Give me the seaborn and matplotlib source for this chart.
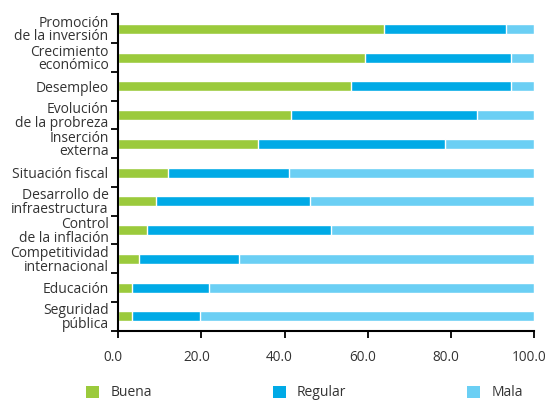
import matplotlib
matplotlib.use("Agg")
import matplotlib.pyplot as plt
from matplotlib.patches import Patch
from matplotlib.transforms import ScaledTranslation
import seaborn as sns
import pandas as pd

categorias = [
    "Promoción\nde la inversión",
    "Crecimiento\neconómico",
    "Desempleo",
    "Evolución\nde la probreza",
    "Inserción\nexterna",
    "Situación fiscal",
    "Desarrollo de\ninfraestructura",
    "Control\nde la inflación",
    "Competitividad\ninternacional",
    "Educación",
    "Seguridad\npública",
]
buena = [64.0, 59.3, 55.9, 41.6, 33.6, 12.0, 9.1, 7.0, 5.0, 3.3, 3.3]
regular = [29.3, 35.2, 38.6, 44.6, 45.1, 29.1, 37.0, 44.2, 24.1, 18.5, 16.4]
mala = [6.7, 5.5, 5.5, 13.8, 21.3, 58.9, 53.9, 48.8, 70.9, 78.2, 80.3]
xticks = [0, 20, 40, 60, 80, 100]
series = ["Buena", "Regular", "Mala"]
colores = {"Buena": "#9BCA3C", "Regular": "#00AAE6", "Mala": "#6BCFF4"}

sns.set_theme(style="white")
plt.rcParams["font.family"] = ["Open Sans", "DejaVu Sans"]
texto = "#333333"

df = pd.DataFrame({"cat": categorias, "Buena": buena, "Regular": regular, "Mala": mala})
acum = df[series].cumsum(axis=1)
acum["cat"] = df["cat"]

fig = plt.figure(figsize=(5.47, 4.0), dpi=100)
ax = fig.add_axes([0.2163, 0.1732, 0.9762 - 0.2163, 0.964 - 0.1732])

# stacked bars: draw cumulative totals back to front
for s in reversed(series):
    sns.barplot(data=acum, x=s, y="cat", orient="h", color=colores[s],
                width=0.35, edgecolor="white", linewidth=1.0,
                saturation=1, ax=ax, order=categorias)

ax.set_xlim(0, 100)
ax.set_ylim(len(categorias) - 0.5, -0.5)
ax.set_xlabel("")
ax.set_ylabel("")

ax.set_xticks(xticks)
ax.set_xticklabels([f"{v:.1f}" for v in xticks])
ax.tick_params(axis="x", direction="out", length=5, width=1.3, color="black",
               pad=9, labelsize=9.8, labelcolor=texto, bottom=True)
# x labels sit a little left of their ticks
shift = ScaledTranslation(-5 / 100, 0, fig.dpi_scale_trans)
for lab in ax.get_xticklabels():
    lab.set_transform(lab.get_transform() + shift)

# boundary ticks on y, labels centred on each bar
ax.set_yticks([i - 0.5 for i in range(len(categorias) + 1)])
ax.set_yticklabels([])
ax.set_yticks(range(len(categorias)), minor=True)
ax.set_yticklabels(categorias, minor=True, fontsize=10, color=texto,
                   linespacing=0.88)
ax.tick_params(axis="y", which="major", direction="out", length=5, width=1.3,
               color="black", left=True)
ax.tick_params(axis="y", which="minor", length=0, pad=7, left=True)

for side in ["top", "right"]:
    ax.spines[side].set_visible(False)
for side in ["left", "bottom"]:
    ax.spines[side].set_color("black")
    ax.spines[side].set_linewidth(1.5)

handles = [Patch(facecolor=colores[s], edgecolor="none") for s in series]
fig.legend(handles, series, ncol=3, loc="center left",
           bbox_to_anchor=(86 / 547, 1 - 393 / 400), frameon=False,
           fontsize=10, labelcolor=texto, handlelength=0.95, handleheight=0.95,
           handletextpad=0.8, columnspacing=8.7, borderpad=0, borderaxespad=0)

fig.savefig("out.png", dpi=100)
